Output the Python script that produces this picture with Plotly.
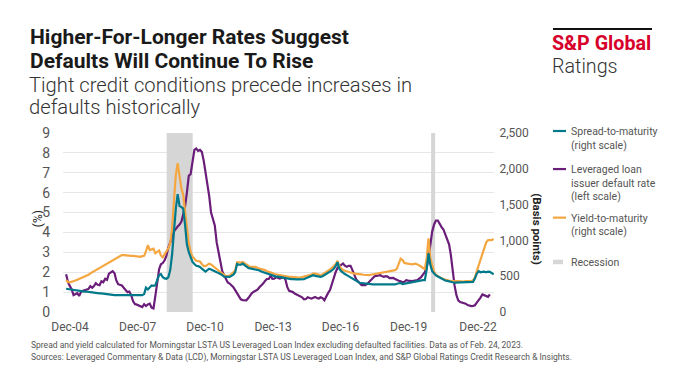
import pandas as pd
import plotly.graph_objects as go

# ---------------- data ----------------
DATES = pd.date_range("2003-12-01", "2023-02-01", freq="MS")

# Leveraged loan issuer default rate (%), left scale
DEFAULT_RATE = [
    1.90,
    1.50, 1.30, 1.14, 0.85, 0.92, 0.95, 0.81, 1.00, 1.07, 1.09, 1.11, 1.16,
    1.30, 1.22, 1.30, 1.45, 1.37, 1.35, 1.55, 1.50, 1.67, 1.62, 1.93, 2.00,
    2.05, 1.95, 1.60, 1.40, 1.37, 1.33, 1.22, 1.12, 1.00, 1.03, 0.85, 0.55,
    0.40, 0.37, 0.33, 0.26, 0.25, 0.39, 0.30, 0.38, 0.42, 0.22, 0.18, 0.80,
    1.55, 2.15, 2.40, 2.46, 2.60, 2.85, 3.24, 3.45, 3.75, 4.05, 4.20, 4.30,
    4.40, 4.55, 4.90, 5.30, 6.00, 6.85, 6.93, 7.50, 8.15, 8.22, 8.10, 8.15,
    8.05, 7.60, 7.05, 6.50, 5.84, 5.00, 4.62, 4.35, 3.50, 3.05, 2.50, 2.05,
    1.85, 1.65, 1.48, 1.43, 1.35, 1.25, 1.10, 0.95, 0.75, 0.64, 0.60, 0.59,
    0.59, 0.70, 0.84, 0.95, 1.02, 1.07, 1.12, 1.24, 1.33, 1.43, 1.56, 1.66,
    1.66, 1.82, 1.67, 1.68, 1.75, 1.72, 1.68, 1.72, 1.77, 1.62, 1.25, 1.06,
    1.03, 1.00, 0.93, 0.88, 0.84, 0.79, 0.74, 0.64, 0.65, 0.74, 0.70, 0.67,
    0.72, 0.76, 0.70, 0.68, 0.74, 0.70, 0.59, 0.82, 0.96, 1.10, 1.40, 1.75,
    2.00, 2.22, 2.30, 2.40, 2.44, 2.33, 2.27, 2.32, 2.32, 2.12, 1.85, 1.65,
    1.54, 1.43, 1.35, 1.35, 1.35, 1.41, 1.50, 1.62, 1.72, 1.80, 1.82, 1.84,
    1.85, 1.80, 1.77, 1.80, 1.78, 1.70, 1.70, 1.72, 1.66, 1.60, 1.57, 1.54,
    1.50, 1.52, 1.60, 1.58, 1.56, 1.55, 1.57, 1.58, 1.60, 1.68, 1.75, 1.88,
    2.00, 2.25, 2.70, 3.40, 4.05, 4.40, 4.60, 4.60, 4.42, 4.27, 4.15, 3.90,
    3.65, 3.40, 2.90, 1.95, 1.35, 0.85, 0.58, 0.50, 0.47, 0.46, 0.42, 0.35,
    0.32, 0.30, 0.31, 0.34, 0.47, 0.58, 0.72, 0.88, 0.84, 0.77, 0.76, 0.89,
    None, None,
]

# Spread-to-maturity (basis points), right scale
SPREAD = [
    325,
    320, 315, 310, 305, 300, 295, 295, 290, 290, 285, 285, 280,
    280, 270, 270, 265, 265, 260, 260, 255, 250, 245, 245, 240,
    235, 235, 235, 235, 235, 235, 240, 245, 245, 245, 245, 245,
    245, 240, 240, 240, 235, 250, 340, 315, 345, 370, 365, 375,
    445, 515, 530, 485, 470, 465, 485, 585, 805, 1165, 1445, 1645,
    1480, 1465, 1445, 1220, 945, 835, 755, 700, 670, 645, 640, 630,
    605, 580, 565, 585, 605, 595, 580, 560, 555, 545, 535, 515,
    495, 490, 490, 490, 505, 520, 555, 670, 660, 660, 675, 655,
    630, 615, 610, 605, 595, 590, 585, 580, 565, 555, 545, 535,
    530, 525, 515, 505, 495, 495, 490, 485, 475, 470, 465, 465,
    460, 460, 455, 455, 455, 455, 460, 460, 470, 480, 490, 505,
    515, 505, 500, 495, 490, 500, 515, 530, 540, 560, 580, 605,
    640, 695, 605, 570, 545, 530, 515, 500, 485, 470, 455, 435,
    420, 405, 405, 400, 395, 395, 390, 390, 385, 385, 385, 385,
    385, 380, 380, 375, 375, 375, 380, 380, 385, 395, 405, 405,
    390, 395, 410, 415, 420, 420, 425, 430, 435, 440, 445, 445,
    445, 595, 820, 655, 570, 535, 510, 495, 480, 465, 455, 440,
    435, 425, 420, 415, 410, 410, 410, 410, 410, 410, 410, 410,
    415, 415, 420, 470, 535, 570, 555, 560, 565, 555, 565, 560,
    540, 525,
]

# Yield-to-maturity (basis points), right scale
YIELD = [
    445,
    420, 415, 420, 425, 440, 450, 460, 470, 485, 500, 510, 520,
    540, 555, 565, 585, 595, 615, 630, 645, 660, 675, 690, 705,
    720, 735, 745, 760, 780, 795, 795, 790, 790, 790, 785, 785,
    780, 780, 770, 770, 780, 785, 845, 935, 865, 875, 885, 820,
    845, 860, 790, 765, 805, 840, 890, 960, 1165, 1555, 1915, 2080,
    1860, 1720, 1640, 1415, 1140, 960, 845, 770, 745, 715, 710, 705,
    670, 640, 640, 660, 675, 665, 645, 630, 605, 580, 555, 535,
    510, 500, 505, 505, 530, 550, 580, 695, 690, 690, 700, 680,
    660, 645, 630, 630, 630, 630, 615, 610, 600, 590, 585, 570,
    565, 555, 545, 530, 525, 520, 515, 505, 495, 490, 490, 490,
    490, 485, 480, 480, 480, 480, 485, 490, 495, 505, 515, 525,
    540, 535, 530, 520, 515, 525, 540, 560, 580, 595, 615, 640,
    665, 715, 645, 610, 585, 575, 565, 560, 555, 545, 535, 535,
    530, 530, 525, 520, 515, 515, 515, 520, 525, 530, 530, 535,
    540, 545, 550, 555, 565, 570, 570, 580, 585, 605, 665, 745,
    725, 685, 680, 680, 670, 665, 670, 675, 665, 655, 635, 615,
    600, 755, 1030, 750, 640, 560, 520, 500, 485, 470, 460, 450,
    445, 440, 435, 430, 430, 430, 430, 425, 420, 425, 430, 430,
    430, 430, 445, 480, 570, 655, 730, 835, 910, 970, 1005, 1005,
    1005, 1020,
]

RECESSION_START = ["2008-06-04", "2020-04-13"]
RECESSION_END = ["2009-08-04", "2020-06-18"]

TICK_DATES = ["2004-02-03", "2007-02-15", "2010-02-21", "2013-03-12",
              "2016-03-21", "2019-04-12", "2022-05-21"]
TICK_TEXT = ["Dec-04", "Dec-07", "Dec-10", "Dec-13", "Dec-16", "Dec-19", "Dec-22"]

LEFT_RANGE = [0, 9]
RIGHT_RANGE = [0, 2500]
LEFT_TICKS = list(range(0, 10))
RIGHT_TICKS = [0, 500, 1000, 1500, 2000, 2500]

# ---------------- style ----------------
FONT = "Roboto"
TEAL = "#00798a"
PURPLE = "#6a1d79"
ORANGE = "#f4a640"
GREY_TXT = "#555555"
REC_GREY = "#d6d6d6"

W, H = 680, 383
L, R, T, B = 63, 494, 133, 311.7


def px(x):
    return (x - L) / (R - L)


def py(y):
    return (B - y) / (B - T)


fig = go.Figure()

# recession bands (filled areas spanning the full left-axis range)
for s, e in zip(RECESSION_START, RECESSION_END):
    fig.add_trace(go.Scatter(
        x=[s, s, e, e, s],
        y=[LEFT_RANGE[0], LEFT_RANGE[1], LEFT_RANGE[1], LEFT_RANGE[0], LEFT_RANGE[0]],
        mode="lines", fill="toself", fillcolor=REC_GREY,
        line=dict(width=0, color=REC_GREY), yaxis="y",
        hoverinfo="skip", name="Recession"))

fig.add_trace(go.Scatter(x=DATES, y=DEFAULT_RATE, mode="lines", yaxis="y",
                         line=dict(color=PURPLE, width=2.2),
                         name="Leveraged loan issuer default rate (left scale)"))
fig.add_trace(go.Scatter(x=DATES, y=YIELD, mode="lines", yaxis="y2",
                         line=dict(color=ORANGE, width=2.2),
                         name="Yield-to-maturity (right scale)"))
fig.add_trace(go.Scatter(x=DATES, y=SPREAD, mode="lines", yaxis="y2",
                         line=dict(color=TEAL, width=2.2),
                         name="Spread-to-maturity (right scale)"))

shapes = []
annotations = []


def text(x, y, t, size, color="#222222", anchor="left", weight=None, angle=0):
    f = dict(family=FONT, size=size, color=color)
    if weight is not None:
        f["weight"] = weight
    annotations.append(dict(xref="paper", yref="paper", x=px(x), y=py(y),
                            text=t, showarrow=False, xanchor=anchor,
                            yanchor="middle", font=f, textangle=angle,
                            borderpad=0))


# title & subtitle
text(29, 37, "<b>Higher-For-Longer Rates Suggest</b>", 21, "#1a1a1a")
text(29, 61, "<b>Defaults Will Continue To Rise</b>", 21, "#1a1a1a")
text(28, 85, "Tight credit conditions precede increases in", 20.2, "#333333", weight=300)
text(28, 107, "defaults historically", 20.2, "#333333", weight=300)

# logo
shapes.append(dict(type="rect", xref="paper", yref="paper", x0=px(553), x1=px(652),
                   y0=py(30.2), y1=py(28.2), fillcolor="#111111",
                   line=dict(width=0), layer="above"))
text(551, 44, "<b>S&P Global</b>", 19.7, "#d6002a")
text(551, 67, "Ratings", 19.7, "#333333", weight=300)

# axis titles
text(38, 219, "(%)", 12, "#222222", anchor="center", angle=-90)
text(537, 229, "<b>(Basis points)</b>", 11.5, "#222222", anchor="center", angle=90)

# legend
LEG_X = 570
LEG_STEP = 13.5
leg_items = [
    (TEAL, 131.5, ["Spread-to-maturity", "(right scale)"]),
    (PURPLE, 169.5, ["Leveraged loan", "issuer default rate", "(left scale)"]),
    (ORANGE, 218, ["Yield-to-maturity", "(right scale)"]),
]
for color, y0, lines in leg_items:
    shapes.append(dict(type="line", xref="paper", yref="paper", x0=px(553), x1=px(566),
                       y0=py(y0 - 0.5), y1=py(y0 - 0.5), line=dict(color=color, width=2.2)))
    for i, ln in enumerate(lines):
        text(LEG_X, y0 + i * LEG_STEP, ln, 10.5, GREY_TXT)
shapes.append(dict(type="rect", xref="paper", yref="paper", x0=px(553), x1=px(563),
                   y0=py(264), y1=py(259.5), fillcolor=REC_GREY, line=dict(width=0)))
text(LEG_X, 262, "Recession", 10.5, GREY_TXT)

# footnotes
text(30, 345, "Spread and yield calculated for Morningstar LSTA US Leveraged Loan Index "
              "excluding defaulted facilities. Data as of Feb. 24, 2023.", 8.5, GREY_TXT)
text(30, 357, "Sources: Leveraged Commentary & Data (LCD), Morningstar LSTA US Leveraged "
              "Loan Index, and S&P Global Ratings Credit Research & Insights.", 8.5, GREY_TXT)

fig.update_layout(
    width=W, height=H,
    margin=dict(l=L, r=W - R, t=T, b=H - B, pad=0, autoexpand=False),
    paper_bgcolor="white", plot_bgcolor="white",
    showlegend=False,
    font=dict(family=FONT, color=GREY_TXT),
    shapes=shapes,
    annotations=annotations,
    xaxis=dict(type="date", range=["2003-10-11", "2023-02-07"],
               tickmode="array", tickvals=TICK_DATES, ticktext=TICK_TEXT,
               showgrid=False, zeroline=False, showline=False, automargin=False,
               ticks="outside", ticklen=4, tickcolor="rgba(0,0,0,0)",
               tickfont=dict(family=FONT, size=12, color=GREY_TXT)),
    yaxis=dict(range=LEFT_RANGE, tickmode="array", tickvals=LEFT_TICKS,
               showgrid=True, gridcolor="#e6e6e6", gridwidth=1,
               zeroline=False, showline=False, automargin=False,
               ticks="outside", ticklen=9, tickcolor="rgba(0,0,0,0)",
               tickfont=dict(family=FONT, size=14, color=GREY_TXT)),
    yaxis2=dict(range=RIGHT_RANGE, overlaying="y", side="right",
                tickmode="array", tickvals=RIGHT_TICKS, tickformat=",",
                showgrid=False, zeroline=False, showline=False, automargin=False,
                ticks="outside", ticklen=2, tickcolor="rgba(0,0,0,0)",
                tickfont=dict(family=FONT, size=12, color=GREY_TXT)),
)

fig.write_html("out.html",
               config={"displayModeBar": False},
               post_script="document.body.style.margin='0px';"
                           "document.body.style.overflow='hidden';")
